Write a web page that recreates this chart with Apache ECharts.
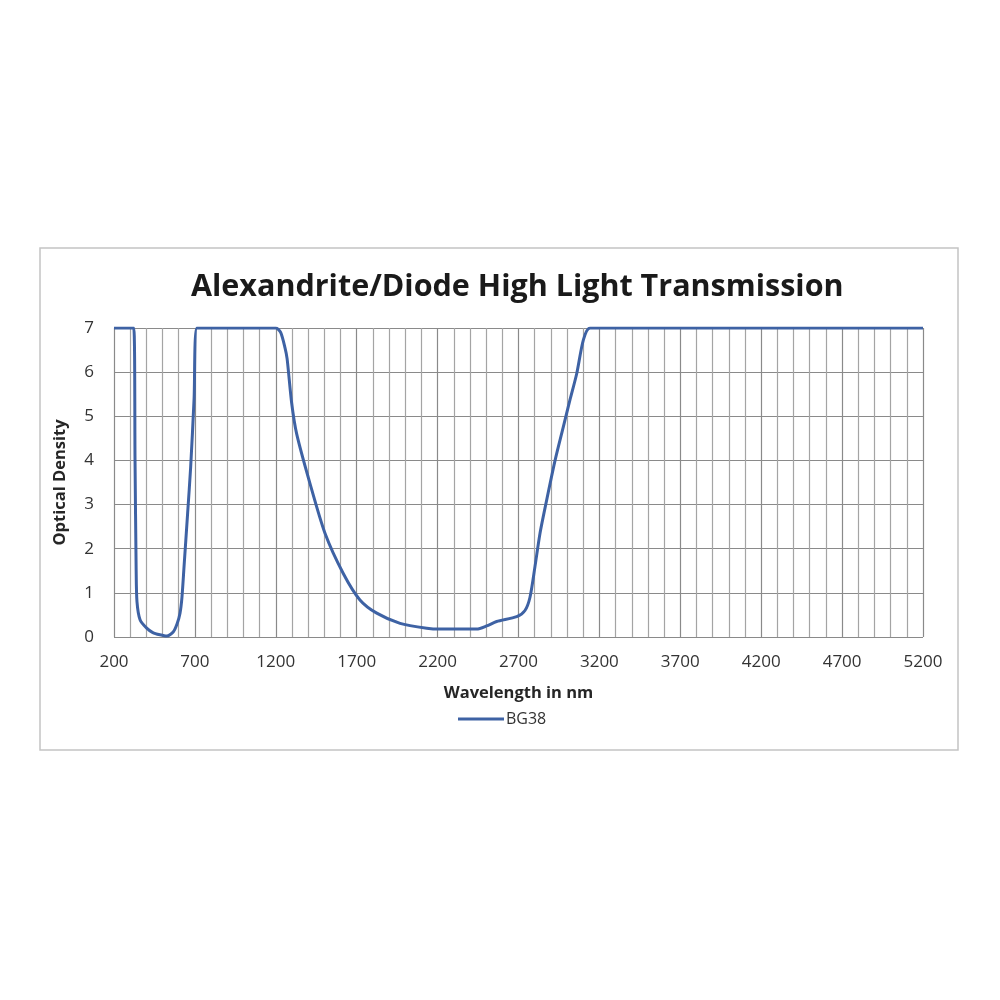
<!DOCTYPE html>
<html><head><meta charset="utf-8">
<script src="https://cdn.jsdelivr.net/npm/echarts@6/dist/echarts.min.js"></script>
<style>html,body{margin:0;padding:0;background:#fff}#c{width:1000px;height:1000px}</style>
</head><body><div id="c"></div>
<script>
const titleText = 'Alexandrite/Diode High Light Transmission';
const seriesName = 'BG38';
const xAxisName = 'Wavelength in nm';
const yAxisName = 'Optical Density';
const wavelength = [200, 322, 330, 337, 342, 361, 402, 440, 484, 526, 567, 590, 608, 620, 633, 655, 674, 695, 713,
  1200, 1230, 1257, 1270, 1298, 1329, 1411, 1504, 1617, 1720, 1824, 1968, 2133, 2215, 2442, 2503, 2565, 2689,
  2740, 2771, 2802, 2833, 2874, 2926, 2977, 3018, 3060, 3101, 3142, 5200];
const density = [7, 7, 4, 1.5, 0.8, 0.39, 0.2, 0.1, 0.05, 0.02, 0.12, 0.3, 0.54, 0.9, 1.6, 2.8, 3.86, 5.4, 7,
  7, 6.9, 6.55, 6.3, 5.3, 4.6, 3.48, 2.35, 1.44, 0.84, 0.54, 0.31, 0.2, 0.18, 0.18, 0.25, 0.35, 0.46,
  0.6, 0.9, 1.6, 2.35, 3.1, 4.0, 4.76, 5.37, 5.97, 6.73, 7, 7];

const points = wavelength.map((w, i) => [w, density[i]]);
const chart = echarts.init(document.getElementById('c'));
const font = '"Open Sans", sans-serif';
chart.setOption({
  animation: false,
  backgroundColor: '#fff',
  title: {
    text: titleText, left: 186, top: 267,
    textStyle: { fontFamily: font, fontWeight: 'bold', fontSize: 30.5, color: '#1a1a1a' }
  },
  graphic: [{
    type: 'rect', shape: { x: 40, y: 248, width: 918, height: 502 },
    style: { fill: 'none', stroke: '#c4c4c4', lineWidth: 1.5 }, z: -1
  }],
  legend: {
    left: 453, top: 706, itemWidth: 46, itemHeight: 3, itemGap: 4,
    textStyle: { fontFamily: font, fontSize: 16, color: '#333', padding: [0, 0, 0, -3] },
    data: [{ name: seriesName, icon: 'rect' }]
  },
  grid: { left: 114, right: 77, top: 328, bottom: 363 },
  xAxis: {
    type: 'value', min: 200, max: 5200, interval: 500,
    name: xAxisName, nameLocation: 'middle', nameGap: 48,
    nameTextStyle: { fontFamily: font, fontWeight: 'bold', fontSize: 16.5, color: '#262626' },
    axisLine: { show: false }, axisTick: { show: false },
    axisLabel: { margin: 17, fontFamily: font, fontSize: 17, color: '#333', formatter: v => String(v) },
    splitLine: { show: true, lineStyle: { color: '#8a8a8a', width: 1.2 } },
    minorTick: { show: false, splitNumber: 5 },
    minorSplitLine: { show: true, lineStyle: { color: '#a4a4a4', width: 1.2 } }
  },
  yAxis: {
    type: 'value', min: 0, max: 7, interval: 1,
    name: yAxisName, nameLocation: 'middle', nameGap: 45, nameRotate: 90,
    nameTextStyle: { fontFamily: font, fontWeight: 'bold', fontSize: 16.5, color: '#262626' },
    axisLine: { show: false }, axisTick: { show: false },
    axisLabel: { margin: 20, fontFamily: font, fontSize: 17, color: '#333' },
    splitLine: { show: true, lineStyle: { color: '#8a8a8a', width: 1.2 } }
  },
  series: [{
    name: seriesName, type: 'line', data: points, symbol: 'none',
    smooth: 0.25,
    lineStyle: { color: '#3e62a4', width: 3 }, itemStyle: { color: '#3e62a4' }
  }]
});
</script></body></html>
